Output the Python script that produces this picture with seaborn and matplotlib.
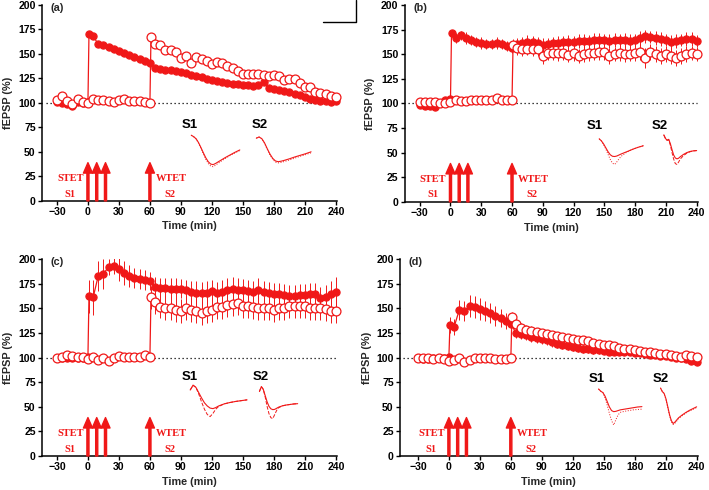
"""
Four-panel fEPSP time course (STET on S1 at 0 min, WTET on S2 at 60 min),
with example traces for each pathway.  Writes out.png (709 x 490 px).
"""

import matplotlib
matplotlib.use("Agg")
import matplotlib.pyplot as plt
from matplotlib.lines import Line2D
from matplotlib.transforms import Affine2D
import pandas as pd
import seaborn as sns

# ---------------------------------------------------------------- data
# time grids (min): S1 (filled) and S2 (open)
T_S1 = [-30, -25, -20, -15, -10, -5, 0,
        1, 5, 10, 15, 20, 25, 30, 35, 40, 45, 50, 55, 60,
        65, 70, 75, 80, 85, 90, 95, 100, 105, 110, 115, 120, 125, 130, 135, 140,
        145, 150, 155, 160, 165, 170, 175, 180, 185, 190, 195, 200, 205, 210,
        215, 220, 225, 230, 235, 240]
T_S2 = [-30, -25, -20, -15, -10, -5, 0, 5, 10, 15, 20, 25, 30, 35, 40, 45, 50, 55, 60,
        61, 65, 70, 75, 80, 85, 90, 95, 100, 105, 110, 115, 120, 125, 130, 135, 140,
        145, 150, 155, 160, 165, 170, 175, 180, 185, 190, 195, 200, 205, 210,
        215, 220, 225, 230, 235, 240]

# panel (a)
a_s1 = [101, 100, 99, 97, 101, 100, 101,
        170, 168, 160, 159, 157, 155, 153, 151, 149, 147, 145, 143, 141,
        136, 135, 134, 134, 133, 132, 130, 128, 127, 126, 124, 123, 122, 121, 120, 119,
        119, 118, 118, 117, 118, 121, 115, 114, 113, 112, 111, 109, 108, 106,
        104, 103, 102, 102, 101, 102]
a_s2 = [103, 107, 102, 99, 104, 101, 100, 104, 103, 103, 102, 101, 103, 104, 102, 102, 102, 101, 100,
        167, 160, 159, 154, 154, 152, 146, 148, 141, 147, 145, 143, 140, 142, 141, 138, 136,
        133, 129, 129, 129, 129, 128, 127, 128, 127, 123, 124, 124, 120, 116,
        116, 111, 110, 109, 107, 106]

# panel (b)
b_s1 = [98, 97, 97, 96, 100, 103, 104,
        171, 166, 169, 166, 164, 162, 161, 160, 160, 161, 160, 158, 156,
        160, 161, 162, 162, 161, 159, 160, 161, 161, 162, 162, 162, 163, 163, 163, 164,
        164, 164, 163, 164, 164, 164, 163, 164, 166, 168, 167, 166, 165, 164,
        162, 163, 164, 165, 165, 163]
b_s1_err = [2, 2, 2, 2, 3, 3, 3,
            4, 5, 5, 6, 5, 5, 6, 5, 5, 6, 5, 5, 5,
            6, 6, 7, 6, 6, 7, 6, 6, 7, 6, 7, 6, 7, 7, 6, 7,
            7, 6, 7, 7, 6, 7, 7, 6, 7, 7, 6, 7, 7, 6,
            7, 7, 6, 7, 7, 6]
b_s2 = [101, 101, 101, 101, 100, 100, 101, 103, 102, 102, 103, 103, 103, 103, 103, 105, 103, 103, 103,
        159, 156, 155, 155, 155, 155, 148, 151, 151, 151, 151, 149, 151, 148, 150, 151, 151,
        152, 152, 148, 150, 151, 150, 150, 151, 152, 146, 152, 150, 148, 150,
        148, 146, 148, 150, 151, 150]
b_s2_err = [2, 2, 2, 2, 2, 2, 2, 2, 2, 2, 2, 2, 2, 2, 2, 2, 2, 2, 2,
            6, 7, 7, 6, 7, 7, 8, 7, 7, 8, 7, 7, 8, 7, 8, 8, 7,
            8, 8, 8, 7, 8, 8, 7, 8, 8, 10, 8, 8, 8, 8,
            8, 8, 8, 8, 7, 7]

# panel (c)
c_s1 = [99, 99, 100, 100, 99, 100, 101,
        162, 161, 183, 185, 192, 193, 190, 186, 183, 181, 180, 179, 178,
        172, 171, 171, 170, 170, 170, 169, 167, 166, 165, 166, 168, 166, 167, 169, 170,
        169, 169, 168, 167, 169, 167, 165, 164, 164, 163, 162, 162, 163, 163,
        164, 164, 160, 161, 164, 167]
c_s1_err = [3, 3, 3, 3, 3, 3, 3,
            17, 18, 15, 15, 8, 8, 12, 12, 11, 10, 10, 10, 9,
            10, 10, 10, 11, 11, 10, 10, 11, 12, 12, 12, 11, 11, 12, 12, 12,
            12, 11, 11, 11, 12, 11, 12, 12, 12, 12, 12, 12, 12, 12,
            12, 12, 12, 13, 14, 15]
c_s2 = [99, 101, 103, 102, 101, 101, 98, 101, 97, 99, 96, 99, 102, 101, 101, 101, 101, 103, 101,
        161, 156, 151, 150, 150, 148, 147, 150, 148, 147, 145, 147, 148, 151, 151, 153, 154,
        155, 152, 152, 151, 150, 150, 150, 148, 150, 150, 152, 152, 152, 152,
        150, 150, 150, 149, 147, 147]
c_s2_err = [2, 2, 3, 2, 2, 2, 2, 2, 2, 2, 2, 2, 2, 2, 2, 2, 2, 2, 2,
            12, 12, 11, 12, 12, 12, 12, 12, 12, 12, 12, 12, 12, 12, 12, 12, 12,
            12, 12, 12, 12, 12, 12, 12, 12, 12, 12, 12, 12, 12, 12,
            12, 12, 12, 12, 12, 12]

# panel (d)
d_s1 = [99, 98, 98, 99, 99, 100, 101,
        133, 131, 148, 147, 152, 151, 149, 147, 145, 142, 140, 137, 134,
        125, 124, 123, 121, 120, 119, 118, 116, 114, 113, 112, 111, 110, 109, 109, 108,
        108, 107, 106, 106, 106, 106, 106, 105, 105, 104, 103, 103, 102, 102,
        101, 100, 99, 98, 96, 95]
d_s1_err = [2, 2, 2, 2, 2, 2, 2,
            8, 8, 10, 10, 11, 11, 11, 10, 10, 10, 9, 8, 8,
            5, 5, 5, 5, 5, 5, 5, 5, 4, 4, 4, 4, 4, 4, 4, 4,
            4, 3, 3, 3, 3, 3, 3, 3, 3, 3, 3, 3, 3, 3,
            3, 3, 3, 3, 3, 3]
d_s2 = [100, 99, 99, 98, 99, 98, 96, 97, 100, 95, 97, 100, 99, 99, 99, 98, 98, 98, 99,
        141, 134, 130, 128, 127, 126, 125, 124, 123, 122, 121, 120, 119, 118, 118, 117, 115,
        114, 113, 113, 112, 110, 109, 109, 108, 107, 106, 106, 105, 104, 104,
        103, 102, 101, 103, 102, 101]
d_s2_err = [2, 2, 2, 2, 2, 2, 2, 2, 2, 2, 2, 2, 2, 2, 2, 2, 2, 2, 2,
            5, 5, 5, 5, 5, 4, 4, 4, 4, 4, 4, 4, 4, 4, 4, 4, 4,
            4, 4, 4, 4, 4, 4, 4, 4, 4, 4, 4, 4, 4, 4,
            4, 4, 4, 4, 4, 4]

# example fEPSP traces (normalised amplitude): solid = post, broken = baseline
TRACE_T = [0, 1, 2, 3, 4, 5, 6, 7, 8, 9, 10, 12, 14, 16, 18, 20]
a_tr1_post = [0, -0.05, -0.12, -0.25, -0.42, -0.6, -0.77, -0.9, -0.98, -1.0, -0.96, -0.86, -0.76, -0.67, -0.58, -0.5]
a_tr1_base = [0, -0.05, -0.13, -0.27, -0.45, -0.64, -0.82, -0.96, -1.05, -1.07, -1.02, -0.9, -0.79, -0.69, -0.6, -0.52]
a_tr2_post = [0, 0.05, -0.02, -0.2, -0.45, -0.68, -0.86, -0.97, -1.0, -0.98, -0.95, -0.88, -0.8, -0.73, -0.66, -0.58]
a_tr2_base = [0, 0.05, -0.03, -0.22, -0.48, -0.72, -0.9, -1.02, -1.05, -1.03, -1.0, -0.93, -0.85, -0.77, -0.7, -0.62]
b_tr1_post = [0, -0.08, -0.2, -0.35, -0.5, -0.62, -0.68, -0.69, -0.67, -0.63, -0.59, -0.52, -0.45, -0.38, -0.32, -0.27]
b_tr1_base = [0, -0.08, -0.22, -0.4, -0.6, -0.8, -0.95, -1.0, -0.9, -0.78, -0.68, -0.55, -0.45, -0.38, -0.32, -0.27]
b_tr2_post = [0, -0.12, -0.18, -0.15, -0.3, -0.5, -0.68, -0.78, -0.81, -0.79, -0.74, -0.66, -0.6, -0.56, -0.54, -0.53]
b_tr2_base = [0, -0.12, -0.18, -0.17, -0.35, -0.6, -0.82, -0.97, -1.0, -0.92, -0.82, -0.7, -0.62, -0.57, -0.54, -0.53]
c_tr1_post = [0, 0.18, 0.1, -0.1, -0.3, -0.48, -0.6, -0.68, -0.7, -0.66, -0.6, -0.52, -0.47, -0.43, -0.4, -0.37]
c_tr1_base = [0, 0.18, 0.1, -0.15, -0.45, -0.72, -0.92, -1.0, -0.88, -0.72, -0.62, -0.52, -0.47, -0.43, -0.4, -0.37]
c_tr2_post = [0, 0.18, 0.08, -0.15, -0.38, -0.55, -0.64, -0.67, -0.66, -0.62, -0.58, -0.53, -0.5, -0.48, -0.46, -0.45]
c_tr2_base = [0, 0.18, 0.08, -0.2, -0.55, -0.82, -0.97, -1.0, -0.85, -0.7, -0.6, -0.53, -0.5, -0.48, -0.46, -0.45]
d_tr1_post = [0, -0.06, -0.1, -0.2, -0.35, -0.5, -0.6, -0.63, -0.62, -0.6, -0.58, -0.56, -0.54, -0.52, -0.5, -0.49]
d_tr1_base = [0, -0.06, -0.1, -0.25, -0.45, -0.68, -0.88, -1.0, -0.85, -0.72, -0.65, -0.62, -0.6, -0.58, -0.57, -0.56]
d_tr2_post = [0, -0.1, -0.15, -0.3, -0.52, -0.75, -0.92, -1.0, -0.96, -0.9, -0.84, -0.76, -0.69, -0.63, -0.58, -0.53]
d_tr2_base = [0, -0.1, -0.16, -0.32, -0.55, -0.78, -0.95, -1.03, -0.99, -0.93, -0.86, -0.78, -0.71, -0.65, -0.6, -0.55]

STET_TIMES = [0, 8.5, 17]
WTET_TIMES = [60]

# ---------------------------------------------------------------- style
RED = "#f01818"
sns.set_theme(style="ticks")
plt.rcParams["font.family"] = ["Liberation Sans", "DejaVu Sans"]
plt.rcParams["font.weight"] = "bold"
plt.rcParams["axes.labelweight"] = "bold"
SERIF = ["Liberation Serif", "DejaVu Serif"]


def draw_series(ax, t, y, err, filled, z):
    if err is not None:
        ax.errorbar(t, y, yerr=err, fmt="none", ecolor=RED, elinewidth=0.7,
                    capsize=0, zorder=z - 0.5)
    df = pd.DataFrame({"t": t, "y": y})
    sns.lineplot(data=df, x="t", y="y", sort=False, estimator=None, ax=ax,
                 color=RED, lw=0.9, marker="o",
                 markersize=5.2 if filled else 6.4,
                 markerfacecolor=RED if filled else "white",
                 markeredgecolor=RED, markeredgewidth=0.8 if filled else 0.9,
                 zorder=z, clip_on=False)


def draw_trace(ax, label, lx, ly, box, post, base, style):
    # box = (t_start, t_end, y_start, depth): the waveform (0..20 ms, 0..-1)
    # is scaled into that spot of the parent axes' data space
    t0, t1, y0, depth = box
    place = Affine2D().scale((t1 - t0) / 20, depth).translate(t0, y0) + ax.transData
    ax.plot(TRACE_T, base, color=RED, lw=0.7, ls=style, transform=place)
    ax.plot(TRACE_T, post, color=RED, lw=0.8, transform=place)
    ax.text(lx, ly, label, ha="center", va="center", fontsize=9.5,
            fontweight="bold", color="black")


def draw_panel(rect, tag, s1, s1_err, s2, s2_err, traces, xleft, ylab_x):
    assert len(s1) == len(T_S1) and len(s2) == len(T_S2)
    ax = fig.add_axes(rect)
    ax.hlines(100, xleft + 3.5, 240, colors="black", linestyles=(0, (1, 2.2)),
              lw=0.9, zorder=1)
    draw_series(ax, T_S1, s1, s1_err, True, 3)
    draw_series(ax, T_S2, s2, s2_err, False, 4)

    for x in STET_TIMES + WTET_TIMES:
        ax.annotate("", xy=(x, 39), xytext=(x, 0),
                    arrowprops=dict(color=RED, width=1.5, headwidth=6.5,
                                    headlength=7.5, shrink=0), zorder=5)
    txt = dict(ha="center", va="center", color=RED, fontsize=7.5,
               fontweight="bold", family=SERIF)
    ax.text(-17, 22.5, "STET", **txt)
    ax.text(-17, 7, "S1", **txt)
    ax.text(81, 22.5, "WTET", **txt)
    ax.text(79, 7, "S2", **txt)

    for tr in traces:
        draw_trace(ax, *tr)

    ax.set_xlim(xleft, 241)
    ax.set_ylim(0, 200)
    ax.set_xticks(range(-30, 241, 30))
    ax.set_yticks(range(0, 201, 25))
    ax.set_xlabel("Time (min)", fontsize=7.8)
    ax.set_ylabel("fEPSP (%)", fontsize=7.8)
    ax.xaxis.set_label_coords(0.5, -0.105)
    ax.yaxis.set_label_coords(ylab_x, 0.5)
    ax.tick_params(direction="out", length=3, width=1, labelsize=7.6, pad=1.5,
                   colors="black")
    for side in ("left", "bottom"):
        ax.spines[side].set_linewidth(1.1)
        ax.spines[side].set_color("black")
    sns.despine(ax=ax)
    ax.grid(False)
    ax.text(0.03, 0.985, tag, transform=ax.transAxes, ha="left", va="center",
            fontsize=7.8, fontweight="bold")
    return ax


fig = plt.figure(figsize=(7.09, 4.90), dpi=100)

draw_panel([0.0592, 0.590, 0.416, 0.400], "(a)", a_s1, None, a_s2, None,
           [("S1", 99, 77, (100, 147, 67, 30), a_tr1_post, a_tr1_base, ":"),
            ("S2", 166, 77, (163, 216, 64, 24), a_tr2_post, a_tr2_base, ":")],
           -44.5, -0.098)
draw_panel([0.571, 0.588, 0.413, 0.402], "(b)", b_s1, b_s1_err, b_s2, b_s2_err,
           [("S1", 141, 77, (145, 188, 64, 26), b_tr1_post, b_tr1_base, ":"),
            ("S2", 204.5, 77, (208, 240, 68, 30), b_tr2_post, b_tr2_base, "--")],
           -44.5, -0.102)
draw_panel([0.0592, 0.0694, 0.416, 0.402], "(c)", c_s1, c_s1_err, c_s2, c_s2_err,
           [("S1", 99, 80, (99, 154, 67, 27), c_tr1_post, c_tr1_base, "--"),
            ("S2", 167, 80, (166, 203, 65.5, 27.5), c_tr2_post, c_tr2_base, "--")],
           -44.5, -0.098)
draw_panel([0.564, 0.0694, 0.420, 0.402], "(d)", d_s1, d_s1_err, d_s2, d_s2_err,
           [("S1", 143.5, 78, (145, 187, 68, 36.5), d_tr1_post, d_tr1_base, ":"),
            ("S2", 205, 78, (205, 240, 69, 36), d_tr2_post, d_tr2_base, ":")],
           -47.5, -0.092)

# scale-bar bracket at the top between panels (a) and (b)
fig.add_artist(Line2D([323 / 709, 356 / 709, 356 / 709],
                      [1 - 22 / 490, 1 - 22 / 490, 1.0],
                      transform=fig.transFigure, color="black", lw=1.0))

fig.savefig("out.png", dpi=100)
